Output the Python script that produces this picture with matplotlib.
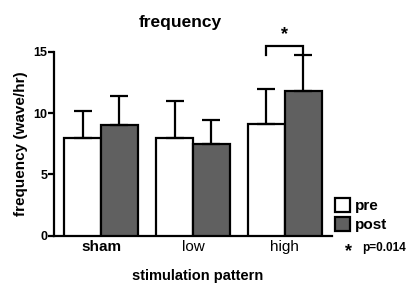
import matplotlib
matplotlib.use("Agg")
import matplotlib.pyplot as plt
import numpy as np

plt.rcParams['font.family'] = ['Liberation Sans', 'DejaVu Sans']

# data
patterns = ["sham", "low", "high"]
pre_mean = [8.0, 8.0, 9.1]
pre_err = [2.2, 3.0, 2.9]
post_mean = [9.0, 7.5, 11.8]
post_err = [2.4, 1.9, 2.95]
yticks = [0, 5, 10, 15]

x = np.arange(len(patterns))
w = 0.4

fig = plt.figure(figsize=(4.11, 2.87), dpi=100)
ax = fig.add_axes([0.132, 0.178, 0.675, 0.642])

ekw = dict(ecolor='black', elinewidth=1.6, capsize=6.5, capthick=1.6)
b1 = ax.bar(x - w / 2, pre_mean, w, yerr=[np.zeros(3), pre_err], color='white',
            edgecolor='black', linewidth=1.6, error_kw=ekw, label='pre', zorder=3)
b2 = ax.bar(x + w / 2, post_mean, w, yerr=[np.zeros(3), post_err], color='#606060',
            edgecolor='black', linewidth=1.6, error_kw=ekw, label='post', zorder=3)

ax.set_xlim(-0.51, 2.51)
ax.set_ylim(0, 15)
ax.set_yticks(yticks)
ax.set_yticklabels([str(t) for t in yticks], fontsize=9, fontweight='bold')
ax.set_xticks(x)
ax.set_xticklabels(patterns, fontsize=11)
ax.get_xticklabels()[0].set_fontweight('bold')
ax.tick_params(axis='x', length=0, pad=3)
ax.tick_params(axis='y', length=4, width=1.6, pad=1)
for s in ['top', 'right']:
    ax.spines[s].set_visible(False)
for s in ['left', 'bottom']:
    ax.spines[s].set_linewidth(1.6)

# significance bracket over "high"
bx0, bx1 = x[2] - w / 2, x[2] + w / 2
ax.plot([bx0, bx0, bx1, bx1], [14.7, 15.5, 15.5, 14.7], color='black', lw=1.6,
        clip_on=False, solid_joinstyle='miter')
ax.text(x[2], 15.7, "*", ha='center', va='bottom', fontsize=13, fontweight='bold')

fig.text(0.438, 0.923, "frequency", ha='center', va='center', fontsize=12.5, fontweight='bold')
fig.text(0.05, 0.498, "frequency (wave/hr)", rotation=90, ha='center', va='center',
         fontsize=11, fontweight='bold')
fig.text(0.48, 0.038, "stimulation pattern", ha='center', va='center', fontsize=10.5,
         fontweight='bold')

leg = fig.legend(handles=[b1, b2], loc='upper left', bbox_to_anchor=(0.815, 0.31),
                 frameon=False, prop={'size': 11, 'weight': 'bold'}, handlelength=1.0,
                 handleheight=1.0, handletextpad=0.3, labelspacing=0.25, borderpad=0,
                 borderaxespad=0)
fig.text(0.849, 0.125, "*", ha='center', va='center', fontsize=13, fontweight='bold')
fig.text(0.882, 0.136, "p=0.014", ha='left', va='center', fontsize=8.5, fontweight='bold')

fig.savefig("out.png", dpi=100)
